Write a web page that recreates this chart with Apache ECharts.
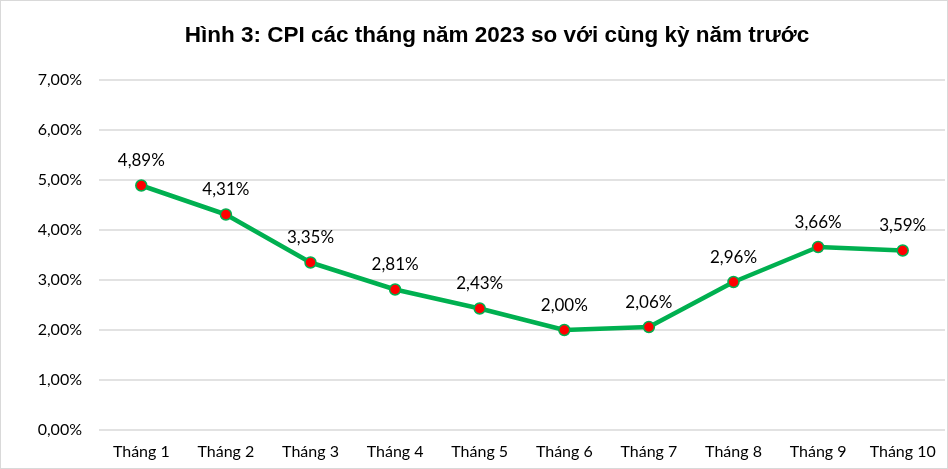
<!DOCTYPE html>
<html>
<head>
    <meta charset="utf-8">
    <title>CPI 2023</title>
    <script src="https://cdn.jsdelivr.net/npm/echarts@6/dist/echarts.min.js"></script>
    <style>
        html, body { margin: 0; padding: 0; background: #fff; }
        #chart { width: 946px; height: 467px; border: 1px solid #d9d9d9; }
    </style>
</head>
<body>
<div id="chart"></div>
<script type="text/javascript">
    // dữ liệu
    var months = ['Tháng 1', 'Tháng 2', 'Tháng 3', 'Tháng 4', 'Tháng 5',
        'Tháng 6', 'Tháng 7', 'Tháng 8', 'Tháng 9', 'Tháng 10'];
    var cpiValues = [4.89, 4.31, 3.35, 2.81, 2.43, 2.00, 2.06, 2.96, 3.66, 3.59];
    var yTicks = [0, 1, 2, 3, 4, 5, 6, 7];

    function pct(v) {
        return v.toFixed(2).replace('.', ',') + '%';
    }

    var myChart = echarts.init(document.getElementById('chart'));
    myChart.setOption({
        animation: false,
        title: {
            text: 'Hình 3: CPI các tháng năm 2023 so với cùng kỳ năm trước',
            left: 491,
            top: 18,
            textAlign: 'center',
            textStyle: {
                fontFamily: 'Liberation Sans, Arial',
                fontWeight: 'bold',
                fontSize: 22.5,
                color: '#000'
            }
        },
        grid: {
            left: 98,
            right: 2,
            top: 79,
            bottom: 38
        },
        xAxis: {
            type: 'category',
            data: months,
            boundaryGap: true,
            axisLine: { show: false },
            axisTick: { show: false },
            axisLabel: {
                interval: 0,
                hideOverlap: false,
                margin: 14,
                fontFamily: 'Lato',
                fontSize: 16,
                color: '#000'
            }
        },
        yAxis: {
            type: 'value',
            min: yTicks[0],
            max: yTicks[yTicks.length - 1],
            interval: 1,
            axisLine: { show: false },
            axisTick: { show: false },
            splitLine: { lineStyle: { color: '#d9d9d9', width: 1.5 } },
            axisLabel: {
                margin: 17,
                fontFamily: 'Lato',
                fontSize: 16,
                color: '#000',
                formatter: pct
            }
        },
        series: [{
            type: 'line',
            data: cpiValues,
            symbol: 'circle',
            symbolSize: 11,
            lineStyle: { color: '#00b050', width: 4.5 },
            itemStyle: { color: '#ff0000', borderColor: '#00b050', borderWidth: 1.5 },
            label: {
                show: true,
                position: 'top',
                distance: 10,
                fontFamily: 'Lato',
                fontSize: 17,
                color: '#000',
                formatter: function (p) { return pct(p.value); }
            }
        }]
    });
</script>
</body>
</html>
